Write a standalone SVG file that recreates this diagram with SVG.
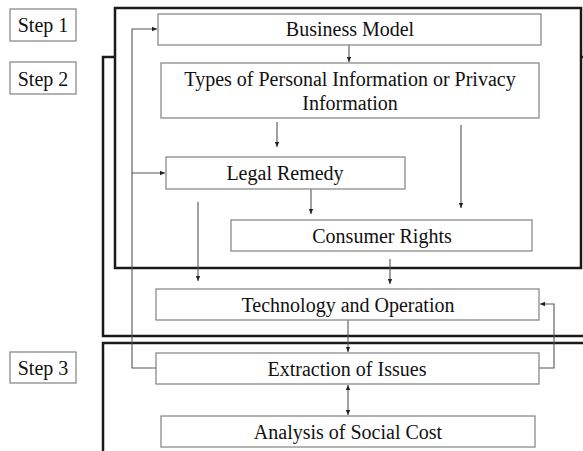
<svg xmlns="http://www.w3.org/2000/svg" width="583" height="451" viewBox="0 0 583 451">
<style>
text{font-family:"Liberation Serif","Times New Roman",serif;font-size:20px;fill:#111;text-anchor:middle}
.box{fill:#fff;stroke:#8a8a8a;stroke-width:1.3}
.step{fill:none;stroke:#1a1a1a;stroke-width:2.5}
.c{fill:none;stroke:#555;stroke-width:1.1}
</style>
<defs>
<marker id="ah" markerWidth="6" markerHeight="6" refX="5" refY="3" orient="auto" markerUnits="userSpaceOnUse">
<path d="M0,0.8 L5,3 L0,5.2 Z" fill="#222"/>
</marker>
<marker id="as" markerWidth="6" markerHeight="6" refX="0" refY="3" orient="auto" markerUnits="userSpaceOnUse">
<path d="M5,0.8 L0,3 L5,5.2 Z" fill="#222"/>
</marker>
</defs>
<rect width="583" height="451" fill="#fff"/>
<g id="labels">
<g id="step1label"><rect class="box" x="10" y="9" width="66" height="32"/><text x="43" y="32">Step 1</text></g>
<g id="step2label"><rect class="box" x="10" y="62" width="66" height="32"/><text x="43" y="86">Step 2</text></g>
<g id="step3label"><rect class="box" x="10" y="352" width="66" height="31"/><text x="43" y="375">Step 3</text></g>
</g>
<g id="stages">
<rect class="step" x="103" y="57" width="490" height="279"/>
<rect class="step" x="103" y="343" width="490" height="120"/>
<rect class="step" x="115" y="8" width="466" height="260" style="fill:#fff"/>
</g>
<g id="connectors">
<line class="c" x1="349" y1="45" x2="349" y2="62" marker-end="url(#ah)"/>
<line class="c" x1="277" y1="122" x2="277" y2="147" marker-end="url(#ah)"/>
<line class="c" x1="461" y1="125" x2="461" y2="208" marker-end="url(#ah)"/>
<line class="c" x1="311" y1="189" x2="311" y2="214" marker-end="url(#ah)"/>
<line class="c" x1="198" y1="202" x2="198" y2="281" marker-end="url(#ah)"/>
<line class="c" x1="390" y1="259" x2="390" y2="284" marker-end="url(#ah)"/>
<line class="c" x1="348" y1="320" x2="348" y2="352" marker-end="url(#ah)"/>
<line class="c" x1="348" y1="385" x2="348" y2="415" marker-start="url(#as)" marker-end="url(#ah)"/>
<polyline class="c" points="539,368 554,368 554,304 540,304" marker-end="url(#ah)"/>
<polyline class="c" points="156,368 132,368 132,29 157,29" marker-end="url(#ah)"/>
<line class="c" x1="132" y1="173" x2="165" y2="173" marker-end="url(#ah)"/>
</g>
<g id="business"><rect class="box" x="158" y="14" width="383" height="31"/><text x="350" y="36">Business Model</text></g>
<g id="types"><rect class="box" x="161" y="63" width="378" height="55"/><text x="350" y="86">Types of Personal Information or Privacy</text><text x="350" y="110">Information</text></g>
<g id="legal"><rect class="box" x="166" y="157" width="239" height="32"/><text x="285" y="180">Legal Remedy</text></g>
<g id="consumer"><rect class="box" x="231" y="220" width="301" height="31"/><text x="382" y="243">Consumer Rights</text></g>
<g id="technology"><rect class="box" x="156" y="289" width="383" height="31"/><text x="348" y="312">Technology and Operation</text></g>
<g id="extraction"><rect class="box" x="156" y="353" width="383" height="31"/><text x="347" y="376">Extraction of Issues</text></g>
<g id="analysis"><rect class="box" x="161" y="416" width="374" height="31"/><text x="348" y="439">Analysis of Social Cost</text></g>
</svg>
